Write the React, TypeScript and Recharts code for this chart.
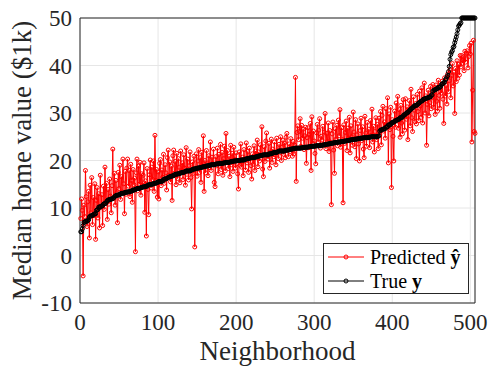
import React from 'react';
import { LineChart, Line, XAxis, YAxis, CartesianGrid, ReferenceLine } from 'recharts';

// sorted true median values, 506 neighborhoods (rows of 10)
const trueY: number[] = [
  5.0, 5.0, 5.6, 6.3, 7.0, 7.0, 7.2, 7.2, 7.2, 7.4,
  7.5, 8.1, 8.3, 8.3, 8.4, 8.5, 8.5, 8.7, 8.8, 8.8,
  9.5, 9.6, 9.7, 10.2, 10.2, 10.2, 10.4, 10.4, 10.5, 10.8,
  10.9, 10.9, 11.0, 11.3, 11.5, 11.7, 11.7, 11.8, 11.8, 11.9,
  11.9, 12.0, 12.1, 12.3, 12.5, 12.6, 12.7, 12.7, 12.7, 12.8,
  12.8, 13.0, 13.1, 13.1, 13.1, 13.1, 13.2, 13.3, 13.3, 13.3,
  13.4, 13.4, 13.4, 13.5, 13.5, 13.6, 13.6, 13.8, 13.8, 13.8,
  13.9, 14.0, 14.1, 14.1, 14.1, 14.1, 14.2, 14.3, 14.3, 14.4,
  14.4, 14.5, 14.5, 14.5, 14.6, 14.6, 14.8, 14.9, 14.9, 14.9,
  15.0, 15.0, 15.0, 15.1, 15.2, 15.2, 15.2, 15.3, 15.4, 15.4,
  15.6, 15.6, 15.6, 15.6, 15.6, 15.7, 16.0, 16.1, 16.1, 16.1,
  16.2, 16.3, 16.4, 16.5, 16.6, 16.6, 16.7, 16.7, 16.8, 16.8,
  17.0, 17.1, 17.1, 17.1, 17.2, 17.2, 17.2, 17.3, 17.4, 17.4,
  17.5, 17.5, 17.5, 17.6, 17.7, 17.8, 17.8, 17.8, 17.8, 17.8,
  17.8, 17.9, 18.0, 18.1, 18.2, 18.2, 18.2, 18.3, 18.3, 18.4,
  18.4, 18.4, 18.5, 18.5, 18.5, 18.6, 18.6, 18.7, 18.7, 18.7,
  18.8, 18.8, 18.9, 18.9, 18.9, 19.0, 19.0, 19.1, 19.1, 19.1,
  19.1, 19.1, 19.2, 19.2, 19.3, 19.3, 19.3, 19.3, 19.4, 19.4,
  19.4, 19.4, 19.4, 19.5, 19.5, 19.5, 19.6, 19.6, 19.6, 19.6,
  19.6, 19.7, 19.7, 19.8, 19.8, 19.8, 19.9, 19.9, 19.9, 19.9,
  20.0, 20.0, 20.0, 20.0, 20.0, 20.1, 20.1, 20.1, 20.1, 20.1,
  20.2, 20.3, 20.3, 20.4, 20.4, 20.4, 20.5, 20.5, 20.6, 20.6,
  20.6, 20.6, 20.6, 20.7, 20.7, 20.8, 20.8, 20.9, 20.9, 21.0,
  21.0, 21.0, 21.1, 21.1, 21.2, 21.2, 21.2, 21.2, 21.2, 21.2,
  21.2, 21.4, 21.4, 21.4, 21.4, 21.5, 21.6, 21.6, 21.7, 21.7,
  21.7, 21.7, 21.8, 21.9, 22.0, 22.0, 22.0, 22.0, 22.0, 22.0,
  22.0, 22.0, 22.1, 22.2, 22.2, 22.2, 22.2, 22.3, 22.3, 22.4,
  22.4, 22.4, 22.5, 22.5, 22.5, 22.6, 22.6, 22.6, 22.6, 22.6,
  22.6, 22.6, 22.6, 22.7, 22.7, 22.7, 22.7, 22.8, 22.8, 22.8,
  22.8, 22.8, 22.9, 22.9, 22.9, 22.9, 23.0, 23.0, 23.0, 23.0,
  23.0, 23.1, 23.1, 23.1, 23.1, 23.1, 23.1, 23.2, 23.2, 23.2,
  23.2, 23.3, 23.3, 23.3, 23.4, 23.4, 23.4, 23.5, 23.5, 23.5,
  23.6, 23.6, 23.6, 23.7, 23.7, 23.7, 23.8, 23.8, 23.8, 23.8,
  23.9, 23.9, 23.9, 23.9, 24.0, 24.0, 24.0, 24.0, 24.1, 24.1,
  24.1, 24.2, 24.2, 24.2, 24.3, 24.3, 24.3, 24.4, 24.4, 24.4,
  24.4, 24.5, 24.5, 24.5, 24.5, 24.6, 24.6, 24.6, 24.7, 24.7,
  24.7, 24.7, 24.8, 24.8, 24.8, 24.8, 24.8, 24.8, 24.8, 24.9,
  24.9, 24.9, 25.0, 25.0, 25.0, 25.0, 25.0, 25.0, 25.0, 25.0,
  25.0, 25.1, 25.2, 26.2, 26.4, 26.4, 26.5, 26.6, 26.6, 26.7,
  26.7, 27.0, 27.1, 27.1, 27.5, 27.5, 27.5, 27.6, 27.9, 28.0,
  28.0, 28.1, 28.2, 28.4, 28.4, 28.5, 28.6, 28.7, 28.7, 29.0,
  29.0, 29.1, 29.1, 29.4, 29.6, 29.6, 29.8, 29.9, 30.1, 30.1,
  30.3, 30.5, 30.7, 30.8, 31.0, 31.1, 31.2, 31.5, 31.5, 31.6,
  31.6, 31.7, 32.0, 32.0, 32.2, 32.4, 32.5, 32.5, 32.7, 32.9,
  32.9, 33.0, 33.1, 33.1, 33.2, 33.2, 33.3, 33.4, 33.4, 33.8,
  33.8, 34.6, 34.7, 34.9, 34.9, 35.0, 35.1, 35.2, 35.4, 35.4,
  35.4, 35.6, 36.0, 36.1, 36.2, 36.4, 36.5, 37.0, 37.2, 37.6,
  37.9, 38.7, 39.8, 41.3, 42.3, 42.8, 43.1, 43.8, 44.0, 44.8,
  45.4, 46.0, 46.7, 47.5, 48.3, 48.5, 48.8, 49.0, 50.0, 50.0,
  50.0, 50.0, 50.0, 50.0, 50.0, 50.0, 50.0, 50.0, 50.0, 50.0, 50.0, 50.0, 50.0, 50.0, 50.0, 50.0,
];

// model predictions, same order
const predictedY: number[] = [
  7.8, 11.9, 9.5, -4.3, 10.6, 8.2, 17.9, 12.4, 6.1, 11.3,
  13.5, 3.7, 14.8, 9.0, 16.4, 6.5, 12.2, 8.4, 15.1, 3.4,
  11.6, 14.3, 7.9, 13.0, 5.8, 16.9, 10.2, 12.8, 6.3, 14.6,
  9.7, 18.6, 11.4, 15.2, 7.6, 13.9, 10.8, 16.1, 12.5, 9.0,
  14.7, 22.4, 12.0, 17.3, 10.6, 15.8, 13.2, 6.9, 17.5, 14.1,
  19.0, 11.8, 16.6, 13.4, 20.3, 15.1, 8.8, 17.7, 12.9, 18.4,
  20.3, 14.6, 17.9, 12.4, 19.2, 15.8, 11.2, 18.1, 14.9, 16.3,
  0.8, 17.4, 20.3, 13.6, 18.8, 15.0, 19.6, 12.7, 17.2, 14.8,
  16.9, 19.5, 9.1, 15.7, 4.1, 18.3, 13.9, 8.6, 17.0, 20.1,
  14.2, 18.6, 16.0, 19.9, 13.5, 25.3, 15.8, 18.1, 12.3, 17.6,
  11.9, 19.4, 20.2, 14.7, 18.0, 16.5, 21.3, 15.2, 19.1, 17.4,
  13.8, 20.6, 22.2, 16.9, 19.7, 15.5, 18.8, 11.6, 21.0, 22.2,
  17.3, 19.8, 14.9, 21.5, 16.2, 20.4, 18.6, 15.3, 22.0, 17.7,
  19.5, 16.0, 21.2, 18.4, 14.8, 22.7, 17.1, 20.3, 15.9, 18.9,
  21.8, 16.4, 9.8, 19.7, 17.3, 20.9, 1.8, 18.2, 21.4, 16.7,
  19.9, 22.3, 17.5, 20.6, 15.4, 21.7, 18.8, 25.2, 13.5, 20.0,
  17.4, 22.1, 19.3, 16.8, 21.0, 18.5, 23.9, 17.9, 20.7, 19.4,
  22.4, 15.4, 14.5, 20.8, 18.9, 22.6, 17.2, 21.3, 19.0, 23.4,
  18.1, 21.7, 16.9, 20.4, 23.0, 17.8, 25.7, 19.6, 22.1, 18.3,
  20.9, 16.6, 23.2, 19.1, 21.5, 17.7, 22.8, 20.2, 18.4, 21.6,
  19.3, 17.2, 14.0, 21.8, 19.0, 23.5, 18.6, 20.7, 16.8, 22.3,
  20.1, 18.0, 23.7, 19.5, 21.9, 17.5, 22.6, 20.4, 18.9, 16.1,
  21.4, 19.2, 23.1, 17.9, 22.0, 20.6, 24.3, 18.7, 21.8, 19.9,
  23.3, 20.5, 27.1, 18.2, 16.6, 22.9, 19.8, 24.1, 25.8, 21.0,
  20.3, 23.6, 18.4, 21.7, 24.5, 19.6, 22.4, 20.8, 23.9, 21.2,
  19.1, 24.7, 22.0, 20.4, 23.4, 21.6, 25.0, 20.0, 22.8, 24.2,
  21.3, 23.7, 20.6, 24.9, 25.7, 22.1, 20.8, 23.5, 21.9, 24.6,
  22.5, 20.9, 24.0, 21.4, 23.2, 37.5, 15.6, 25.9, 27.3, 24.4,
  26.1, 28.8, 23.0, 27.4, 24.7, 26.6, 22.3, 25.2, 27.0, 19.4,
  24.8, 26.9, 22.7, 25.5, 27.8, 17.9, 29.2, 23.6, 26.2, 24.1,
  21.5, 19.3, 25.8, 27.6, 23.9, 26.4, 28.8, 22.6, 25.1, 24.3,
  27.2, 23.4, 26.0, 29.9, 22.5, 25.7, 24.0, 27.9, 21.9, 26.3,
  23.8, 10.7, 25.6, 28.1, 22.2, 17.3, 26.7, 24.5, 27.4, 23.1,
  28.5, 25.2, 30.7, 22.8, 26.9, 24.4, 11.1, 27.5, 23.6, 25.9,
  28.3, 22.1, 26.8, 24.7, 29.1, 21.6, 27.3, 25.0, 23.2, 30.2,
  26.0, 22.9, 28.6, 20.4, 25.4, 27.7, 23.5, 19.9, 26.3, 28.9,
  24.2, 27.1, 22.4, 20.6, 29.3, 25.8, 23.0, 28.0, 24.9, 26.6,
  22.7, 28.4, 25.3, 30.8, 23.9, 27.2, 21.8, 26.1, 29.0, 24.4,
  27.6, 22.5, 28.9, 25.4, 30.3, 23.3, 29.5, 31.4, 26.2, 28.1,
  24.7, 30.9, 27.4, 33.2, 19.5, 29.8, 26.5, 31.2, 14.3, 28.6,
  25.1, 19.9, 30.4, 27.0, 32.1, 28.3, 33.5, 26.8, 30.7, 24.9,
  31.6, 27.9, 25.6, 32.8, 29.2, 26.4, 33.0, 28.7, 31.3, 24.4,
  30.1, 32.6, 27.3, 35.0, 29.0, 26.1, 33.4, 30.6, 28.2, 32.0,
  27.7, 33.9, 30.3, 28.4, 34.6, 31.5, 29.1, 35.3, 27.9, 32.7,
  36.3, 30.0, 33.6, 23.2, 31.8, 34.8, 29.4, 32.2, 35.6, 30.9,
  33.3, 36.0, 31.2, 34.4, 29.7, 35.9, 32.5, 30.4, 36.9, 33.7,
  31.0, 35.1, 34.2, 36.7, 32.9, 27.8, 37.4, 33.6, 35.8, 31.9,
  38.2, 34.5, 36.8, 39.1, 33.2, 37.9, 40.4, 35.7, 38.6, 29.9,
  39.4, 36.6, 41.0, 37.3, 40.2, 38.0, 42.1, 39.7, 42.1, 40.5,
  41.8, 38.9, 43.0, 40.7, 42.6, 43.1, 39.5, 41.9, 44.2, 42.4, 44.7, 23.9, 34.8, 45.3, 26.1, 25.7,
];

const xTicks = [0, 100, 200, 300, 400, 500];
const yTicks = [-10, 0, 10, 20, 30, 40, 50];

const data = trueY.map((y, k) => ({ n: k + 1, pred: predictedY[k], truth: y }));

const serif = '"Liberation Serif", "Times New Roman", serif';
const axisColor = '#262626';

function LegendRow({ color, children }: { color: string; children: React.ReactNode }) {
  return (
    <div style={{ display: 'flex', alignItems: 'center', height: 24 }}>
      <svg width={38} height={10} style={{ marginLeft: 4, marginRight: 4 }}>
        <line x1={0} y1={5} x2={36} y2={5} stroke={color} strokeWidth={1} />
        <circle cx={18} cy={5} r={2} stroke={color} fill="none" strokeWidth={1} />
      </svg>
      <span>{children}</span>
    </div>
  );
}

function LegendBox() {
  return (
    <div
      style={{
        position: 'absolute',
        left: 323,
        top: 243,
        border: '1px solid #262626',
        background: '#fff',
        width: 144,
        height: 48,
        fontFamily: serif,
        fontSize: 20,
        lineHeight: '24px',
        color: '#000',
        paddingTop: 1,
      }}
    >
      <LegendRow color="#ff0000">
        Predicted <b>ŷ</b>
      </LegendRow>
      <LegendRow color="#000000">
        True <b>y</b>
      </LegendRow>
    </div>
  );
}

export default function App() {
  return (
    <div style={{ position: 'absolute', left: 0, top: 0, width: 490, height: 366, background: '#fff' }}>
      <LineChart width={490} height={366} data={data} margin={{ top: 18, right: 15, bottom: 0, left: 0 }}>
        <CartesianGrid stroke="#e6e6e6" strokeWidth={1} />
        <XAxis
          dataKey="n"
          type="number"
          domain={[0, 506]}
          ticks={xTicks}
          height={63}
          stroke={axisColor}
          tickLine={false}
          tickSize={6}
          tickMargin={5}
          tick={{ fill: axisColor, fontSize: 23, fontFamily: serif }}
          label={{ value: 'Neighborhood', position: 'insideBottom', offset: 6, fill: axisColor, fontSize: 27, fontFamily: serif }}
        />
        <YAxis
          type="number"
          domain={[-10, 50]}
          ticks={yTicks}
          width={80}
          stroke={axisColor}
          tickLine={false}
          tickSize={4}
          tickMargin={4}
          tick={{ fill: axisColor, fontSize: 23, fontFamily: serif }}
          label={{ value: 'Median home value ($1k)', angle: -90, position: 'insideLeft', offset: 21, fill: axisColor, fontSize: 27, fontFamily: serif, style: { textAnchor: 'middle' } }}
        />
        <ReferenceLine y={50} stroke={axisColor} strokeWidth={1} />
        <ReferenceLine x={506} stroke={axisColor} strokeWidth={1} />
        <Line
          dataKey="pred"
          name="Predicted"
          stroke="#ff0000"
          strokeWidth={1}
          dot={{ r: 2, stroke: '#ff0000', strokeWidth: 1, fill: 'none' }}
          activeDot={false}
          isAnimationActive={false}
        />
        <Line
          dataKey="truth"
          name="True"
          stroke="#000000"
          strokeWidth={1.2}
          dot={{ r: 2, stroke: '#000000', strokeWidth: 1, fill: 'none' }}
          activeDot={false}
          isAnimationActive={false}
        />
      </LineChart>
      <LegendBox />
    </div>
  );
}
